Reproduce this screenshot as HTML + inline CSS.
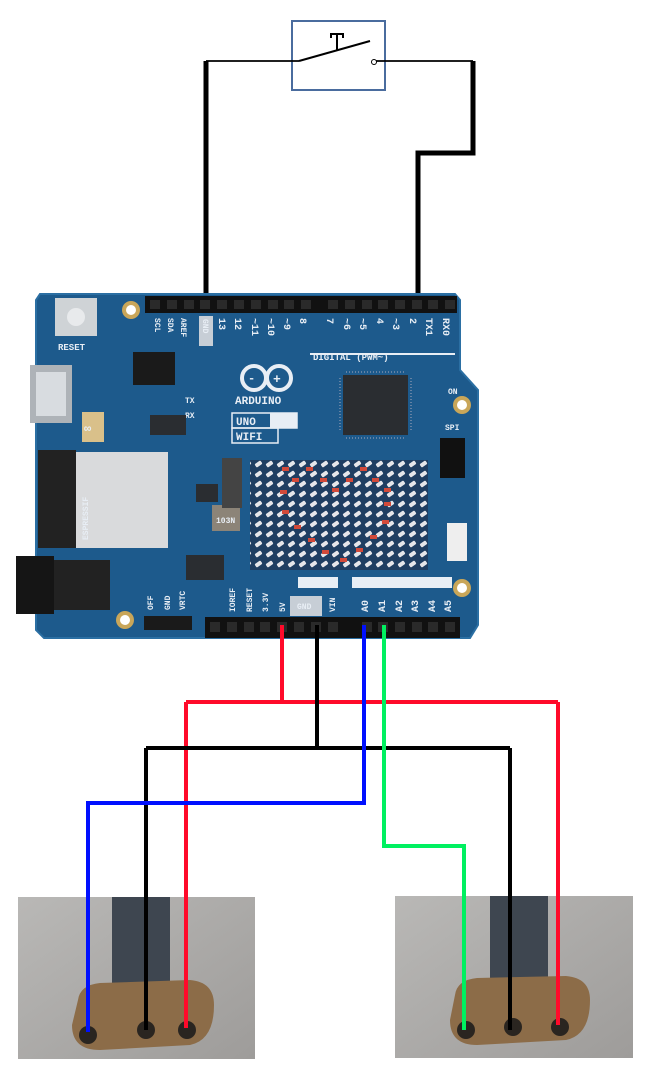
<!DOCTYPE html>
<html><head><meta charset="utf-8"><style>
html,body{margin:0;padding:0;background:#fff;width:650px;height:1076px;overflow:hidden}
svg{display:block}
text{font-family:"Liberation Mono",monospace;font-weight:bold;fill:#e8eef5}
</style></head><body>
<svg width="650" height="1076" viewBox="0 0 650 1076" xmlns="http://www.w3.org/2000/svg">
<defs>
<linearGradient id="bg1" x1="0" y1="0" x2="1" y2="1"><stop offset="0" stop-color="#b9b8b6"/><stop offset="1" stop-color="#9e9c9a"/></linearGradient>
<pattern id="led" width="11" height="10" patternUnits="userSpaceOnUse">
<rect width="11" height="10" fill="#1f3e62"/>
<rect x="2" y="2" width="7" height="4" rx="1" fill="#e6e6ea" transform="rotate(-35 5.5 4)"/>
</pattern>
</defs>

<!-- switch -->
<rect x="292" y="21" width="93" height="69" fill="#fff" stroke="#4a6c9e" stroke-width="2"/>
<line x1="206" y1="61" x2="299" y2="61" stroke="#000" stroke-width="1.8"/>
<line x1="376" y1="61" x2="473" y2="61" stroke="#000" stroke-width="1.8"/>
<line x1="299" y1="61" x2="370" y2="41" stroke="#000" stroke-width="2"/>
<path d="M337 50 V35 M331 38 V34 H343 V38" stroke="#000" stroke-width="2" fill="none"/>
<circle cx="374" cy="62" r="2.5" fill="#fff" stroke="#000" stroke-width="1"/>
<path d="M206 61 V312" stroke="#000" stroke-width="5" fill="none"/>
<path d="M473 61 V153 H418 V308" stroke="#000" stroke-width="5" fill="none"/>

<!-- board -->
<path d="M40 294 H455 L460 300 V370 L478 390 V625 L470 638 H44 L36 630 V300 Z" fill="#1d5a8c"/>
<path d="M40 294 H455 L460 300 V370 L478 390 V625 L470 638 H44 L36 630 V300 Z" fill="none" stroke="#2b6fa3" stroke-width="2"/>
<!-- top header -->
<rect x="145" y="296" width="312" height="17" fill="#111"/>
<g fill="#2a2a2a"><rect x="150" y="300" width="10" height="9"/><rect x="167" y="300" width="10" height="9"/><rect x="184" y="300" width="10" height="9"/><rect x="200" y="300" width="10" height="9"/><rect x="217" y="300" width="10" height="9"/><rect x="234" y="300" width="10" height="9"/><rect x="251" y="300" width="10" height="9"/><rect x="268" y="300" width="10" height="9"/><rect x="284" y="300" width="10" height="9"/><rect x="301" y="300" width="10" height="9"/><rect x="328" y="300" width="10" height="9"/><rect x="345" y="300" width="10" height="9"/><rect x="362" y="300" width="10" height="9"/><rect x="378" y="300" width="10" height="9"/><rect x="395" y="300" width="10" height="9"/><rect x="412" y="300" width="10" height="9"/><rect x="428" y="300" width="10" height="9"/><rect x="445" y="300" width="10" height="9"/></g>
<!-- reset button -->
<rect x="55" y="298" width="42" height="38" fill="#cfd3d6"/>
<circle cx="76" cy="317" r="9" fill="#e8eaec"/>
<text x="58" y="350" font-size="9">RESET</text>
<circle cx="131" cy="310" r="9" fill="#c9a659"/><circle cx="131" cy="310" r="5" fill="#fff"/>
<!-- usb -->
<rect x="30" y="365" width="42" height="58" fill="#aeb3b8"/>
<rect x="36" y="372" width="30" height="44" fill="#d8dce0"/>
<rect x="82" y="412" width="22" height="30" fill="#d9c08a"/>
<text x="84" y="432" font-size="12" fill="#222">∞</text>
<!-- headers small -->
<rect x="133" y="352" width="42" height="33" fill="#1a1a1a"/>
<g font-size="8">
<text x="155" y="318" transform="rotate(90 155 318)">SCL</text>
<text x="168" y="318" transform="rotate(90 168 318)">SDA</text>
<text x="181" y="318" transform="rotate(90 181 318)">AREF</text>
</g>
<rect x="199" y="316" width="14" height="30" fill="#c7ced6"/>
<text x="203" y="319" font-size="8" fill="#223" transform="rotate(90 203 319)">GND</text>
<g font-size="10">
<text x="219" y="318" transform="rotate(90 219 318)">13</text>
<text x="235" y="318" transform="rotate(90 235 318)">12</text>
<text x="252" y="318" transform="rotate(90 252 318)">~11</text>
<text x="268" y="318" transform="rotate(90 268 318)">~10</text>
<text x="284" y="318" transform="rotate(90 284 318)">~9</text>
<text x="300" y="318" transform="rotate(90 300 318)">8</text>
<text x="327" y="318" transform="rotate(90 327 318)">7</text>
<text x="344" y="318" transform="rotate(90 344 318)">~6</text>
<text x="360" y="318" transform="rotate(90 360 318)">~5</text>
<text x="377" y="318" transform="rotate(90 377 318)">4</text>
<text x="393" y="318" transform="rotate(90 393 318)">~3</text>
<text x="410" y="318" transform="rotate(90 410 318)">2</text>
<text x="426" y="318" transform="rotate(90 426 318)">TX1</text>
<text x="443" y="318" transform="rotate(90 443 318)">RX0</text>
</g>
<rect x="310" y="353" width="145" height="2" fill="#e8eef5"/>
<text x="313" y="360" font-size="9">DIGITAL (PWM~)</text>
<!-- logo -->
<circle cx="254" cy="378" r="12" fill="none" stroke="#e8eef5" stroke-width="4"/>
<circle cx="279" cy="378" r="12" fill="none" stroke="#e8eef5" stroke-width="4"/>
<text x="248" y="382" font-size="12">-</text><text x="273" y="383" font-size="13">+</text>
<text x="235" y="404" font-size="11">ARDUINO</text>
<rect x="232" y="413" width="65" height="15" fill="none" stroke="#e8eef5" stroke-width="1.5"/>
<rect x="270" y="413" width="27" height="15" fill="#e8eef5"/>
<text x="236" y="425" font-size="11">UNO</text><text x="273" y="425" font-size="11" fill="#1d5a8c">R4</text>
<rect x="232" y="428" width="46" height="15" fill="none" stroke="#e8eef5" stroke-width="1.5"/>
<text x="236" y="440" font-size="11">WIFI</text>
<text x="185" y="403" font-size="8">TX</text><text x="185" y="418" font-size="8">RX</text>
<!-- main chip -->
<rect x="343" y="375" width="65" height="60" fill="#2a2d31"/>
<g stroke="#aab" stroke-width="1"><path d="M346 372 H406 M346 438 H406 M340 378 V432 M411 378 V432" stroke-dasharray="1 2"/></g>
<rect x="150" y="415" width="36" height="20" fill="#2a2d31"/>
<circle cx="462" cy="405" r="9" fill="#c9a659"/><circle cx="462" cy="405" r="5" fill="#fff"/>
<text x="448" y="394" font-size="8">ON</text>
<text x="445" y="430" font-size="8">SPI</text>
<rect x="440" y="438" width="25" height="40" fill="#111"/>
<rect x="447" y="523" width="20" height="38" fill="#eee"/>
<!-- esp module -->
<rect x="38" y="450" width="38" height="98" fill="#222"/>
<rect x="76" y="452" width="92" height="96" fill="#d9dadc"/>
<text x="88" y="540" font-size="8" fill="#555" transform="rotate(-90 88 540)">ESPRESSIF</text>
<!-- barrel jack -->
<rect x="16" y="556" width="38" height="58" fill="#151515"/>
<rect x="54" y="560" width="56" height="50" fill="#222"/>
<!-- middle parts -->
<rect x="196" y="484" width="22" height="18" fill="#2a2d31"/>
<rect x="212" y="505" width="28" height="26" fill="#8c8478"/>
<text x="216" y="523" font-size="8" fill="#333">103N</text>
<rect x="186" y="555" width="38" height="25" fill="#2a2d31"/>
<rect x="222" y="458" width="20" height="50" fill="#444"/>
<!-- LED matrix -->
<rect x="250" y="460" width="178" height="110" fill="url(#led)"/>
<g fill="#d24a3a"><rect x="282" y="467" width="7" height="4"/><rect x="292" y="478" width="7" height="4"/><rect x="306" y="467" width="7" height="4"/><rect x="320" y="478" width="7" height="4"/><rect x="332" y="488" width="7" height="4"/><rect x="346" y="478" width="7" height="4"/><rect x="360" y="467" width="7" height="4"/><rect x="372" y="478" width="7" height="4"/><rect x="384" y="488" width="7" height="4"/><rect x="280" y="490" width="7" height="4"/><rect x="282" y="510" width="7" height="4"/><rect x="294" y="525" width="7" height="4"/><rect x="308" y="538" width="7" height="4"/><rect x="322" y="550" width="7" height="4"/><rect x="340" y="558" width="7" height="4"/><rect x="356" y="548" width="7" height="4"/><rect x="370" y="535" width="7" height="4"/><rect x="382" y="520" width="7" height="4"/><rect x="384" y="502" width="7" height="4"/></g>
<circle cx="462" cy="588" r="9" fill="#c9a659"/><circle cx="462" cy="588" r="5" fill="#fff"/>
<circle cx="125" cy="620" r="9" fill="#c9a659"/><circle cx="125" cy="620" r="5" fill="#fff"/>
<!-- power / analog labels -->
<rect x="298" y="577" width="40" height="11" fill="#e8eef5"/><text x="300" y="586" font-size="9" fill="#1d5a8c">POWER</text>
<rect x="352" y="577" width="100" height="11" fill="#e8eef5"/><text x="356" y="586" font-size="9" fill="#1d5a8c">ANALOG IN</text>
<g font-size="8">
<text x="235" y="612" transform="rotate(-90 235 612)">IOREF</text>
<text x="252" y="612" transform="rotate(-90 252 612)">RESET</text>
<text x="268" y="612" transform="rotate(-90 268 612)">3.3V</text>
<text x="285" y="612" transform="rotate(-90 285 612)">5V</text>
<text x="335" y="612" transform="rotate(-90 335 612)">VIN</text>
<text x="153" y="610" transform="rotate(-90 153 610)">OFF</text>
<text x="170" y="610" transform="rotate(-90 170 610)">GND</text>
<text x="185" y="610" transform="rotate(-90 185 610)">VRTC</text>
</g>
<rect x="290" y="596" width="32" height="20" fill="#c7ced6"/><text x="297" y="609" font-size="8" fill="#223">GND</text>
<g font-size="10">
<text x="368" y="612" transform="rotate(-90 368 612)">A0</text>
<text x="385" y="612" transform="rotate(-90 385 612)">A1</text>
<text x="402" y="612" transform="rotate(-90 402 612)">A2</text>
<text x="418" y="612" transform="rotate(-90 418 612)">A3</text>
<text x="435" y="612" transform="rotate(-90 435 612)">A4</text>
<text x="451" y="612" transform="rotate(-90 451 612)">A5</text>
</g>
<rect x="144" y="616" width="48" height="14" fill="#1a1a1a"/>
<!-- bottom header -->
<rect x="205" y="617" width="255" height="21" fill="#111"/>
<g fill="#2a2a2a"><rect x="210" y="622" width="10" height="10"/><rect x="227" y="622" width="10" height="10"/><rect x="244" y="622" width="10" height="10"/><rect x="260" y="622" width="10" height="10"/><rect x="277" y="622" width="10" height="10"/><rect x="294" y="622" width="10" height="10"/><rect x="311" y="622" width="10" height="10"/><rect x="328" y="622" width="10" height="10"/><rect x="362" y="622" width="10" height="10"/><rect x="378" y="622" width="10" height="10"/><rect x="395" y="622" width="10" height="10"/><rect x="412" y="622" width="10" height="10"/><rect x="428" y="622" width="10" height="10"/><rect x="445" y="622" width="10" height="10"/></g>

<!-- sensor photos -->
<rect x="18" y="897" width="237" height="162" fill="url(#bg1)"/>
<rect x="112" y="897" width="58" height="115" fill="#3e4650"/>
<path d="M78 1000 Q80 985 100 983 L190 980 Q214 982 214 1005 Q214 1040 190 1045 L100 1050 Q72 1050 72 1025 Z" fill="#8c6c48"/>
<circle cx="88" cy="1035" r="9" fill="#2a2520"/><circle cx="146" cy="1030" r="9" fill="#2a2520"/><circle cx="187" cy="1030" r="9" fill="#2a2520"/>
<rect x="395" y="896" width="238" height="162" fill="url(#bg1)"/>
<rect x="490" y="896" width="58" height="115" fill="#3e4650"/>
<path d="M455 995 Q457 980 477 978 L566 976 Q590 978 590 1000 Q590 1035 566 1040 L477 1045 Q450 1045 450 1020 Z" fill="#8c6c48"/>
<circle cx="466" cy="1030" r="9" fill="#2a2520"/><circle cx="513" cy="1027" r="9" fill="#2a2520"/><circle cx="560" cy="1027" r="9" fill="#2a2520"/>

<!-- wires -->
<g fill="none" stroke-width="4" stroke-linecap="butt">
<path d="M282 625 V702 M186 702 H558 M186 702 V1028 M558 702 V1025" stroke="#ff0a2a"/>
<path d="M317 625 V748 M146 748 H510 M146 748 V1030 M510 748 V1030" stroke="#000"/>
<path d="M364 625 V803 H88 V1032" stroke="#0010ff"/>
<path d="M384 625 V846 H464 V1030" stroke="#00f060"/>
</g>
</svg>
</body></html>
